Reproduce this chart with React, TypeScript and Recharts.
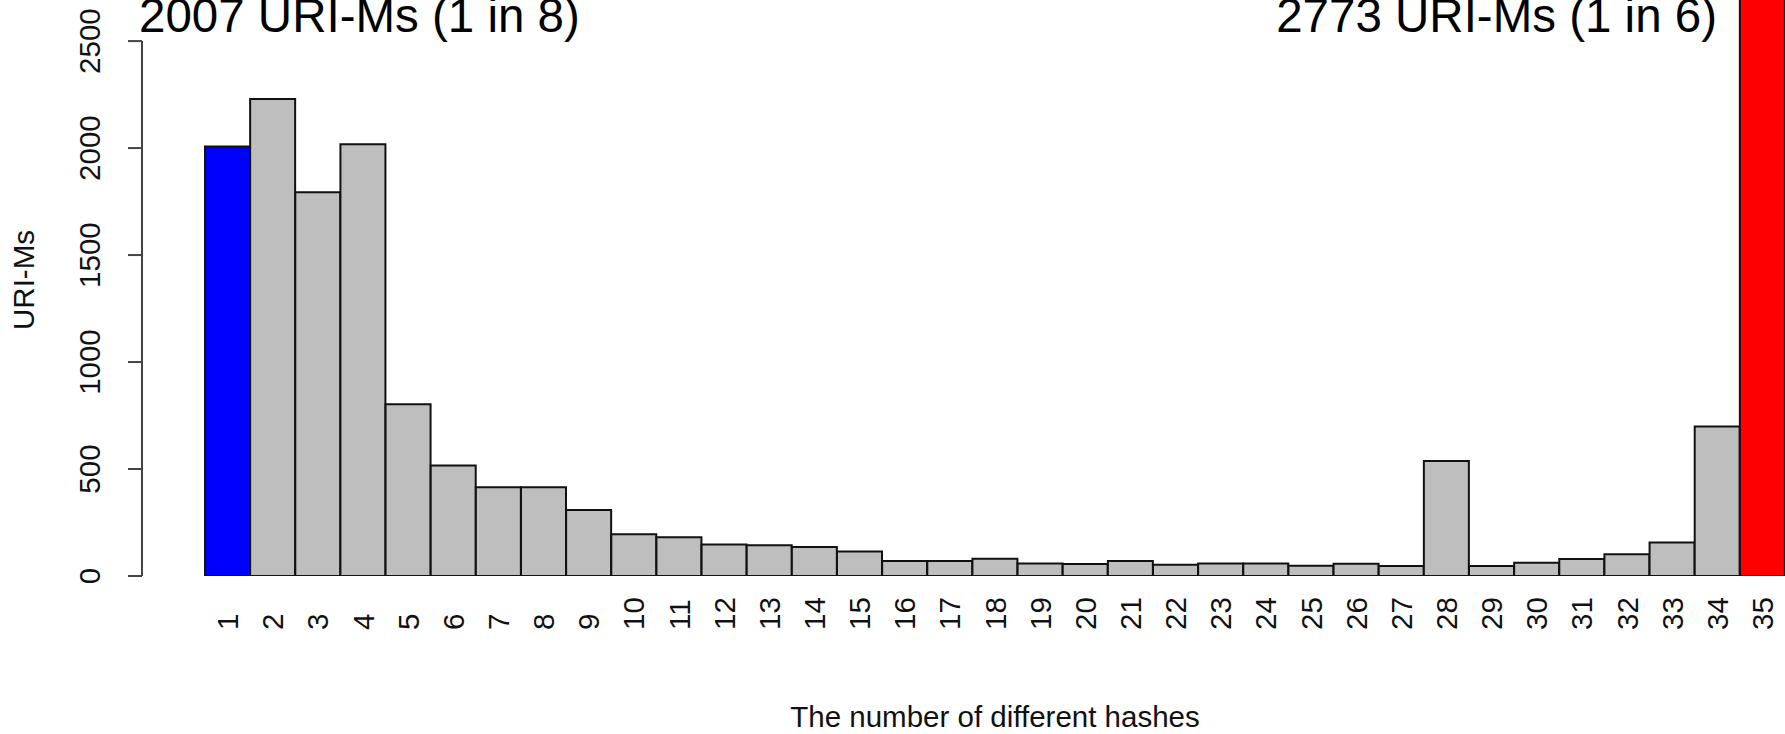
import React from 'react';
import { BarChart, Bar, XAxis, YAxis, Cell, Label } from 'recharts';

// number of different hashes seen for one URI-M
const hashCounts = [
  '1', '2', '3', '4', '5', '6', '7', '8', '9', '10', '11', '12', '13', '14', '15', '16', '17', '18',
  '19', '20', '21', '22', '23', '24', '25', '26', '27', '28', '29', '30', '31', '32', '33', '34', '35',
];

// how many URI-Ms had that many hashes
const uriMs = [
  2007, 2229, 1794, 2018, 803, 516, 415, 415, 309, 195, 181, 147, 144, 136, 115, 70, 70, 81,
  59, 56, 70, 53, 59, 59, 48, 57, 47, 537, 47, 62, 79, 102, 157, 699, 2773,
];

const yTicks = [0, 500, 1000, 1500, 2000, 2500];

const data = hashCounts.map((k, i) => ({ k, count: uriMs[i] }));
const total = uriMs.reduce((a, b) => a + b, 0);
const first = uriMs[0];
const last = uriMs[uriMs.length - 1];

const W = 1785;
const H = 734;
const PLOT_LEFT = 205;
const PLOT_BOTTOM = 576;
const Y_MAX = 2692;
const PX = PLOT_BOTTOM / Y_MAX;
const AXIS_X = 142;
const FONT = '"Liberation Sans", Arial, Helvetica, sans-serif';
const FS = 29.5;

const YTick = (props: any) => {
  const { y, payload } = props;
  const v = payload.value;
  const step = yTicks[1] - yTicks[0];
  return (
    <g>
      {v > 0 && (
        <line x1={AXIS_X} x2={AXIS_X} y1={y} y2={y + step * PX} stroke="#444" strokeWidth={2} />
      )}
      <line x1={AXIS_X - 14} x2={AXIS_X} y1={y} y2={y} stroke="#444" strokeWidth={2} />
      <text
        x={100}
        y={y}
        transform={`rotate(-90, 100, ${y})`}
        textAnchor="middle"
        fontFamily={FONT}
        fontSize={FS}
        fill="#111"
      >
        {v}
      </text>
    </g>
  );
};

const XTick = (props: any) => {
  const { x, payload } = props;
  const y = 630;
  return (
    <text
      x={x}
      y={y}
      dy="0.36em"
      transform={`rotate(-90, ${x}, ${y})`}
      textAnchor="start"
      fontFamily={FONT}
      fontSize={FS}
      fill="#111"
    >
      {payload.value}
    </text>
  );
};

const barColor = (i: number) => {
  if (i === 0) return '#0000ff';
  if (i === uriMs.length - 1) return '#ff0000';
  return '#bebebe';
};

export default function App() {
  return (
    <div style={{ position: 'absolute', left: 0, top: 0, width: W, height: H, background: '#fff' }}>
      <BarChart
        width={W}
        height={H}
        data={data}
        margin={{ top: 0, right: 0, bottom: 0, left: 0 }}
        barCategoryGap={0}
      >
        <XAxis
          dataKey="k"
          interval={0}
          height={H - PLOT_BOTTOM}
          axisLine={false}
          tickLine={false}
          tick={<XTick />}
        >
          <Label
            content={(p: any) => {
              const vb = p.viewBox;
              return (
                <text
                  x={vb.x + vb.width / 2}
                  y={vb.y + vb.height - 7}
                  textAnchor="middle"
                  fontFamily={FONT}
                  fontSize={FS}
                  fill="#111"
                >
                  The number of different hashes
                </text>
              );
            }}
          />
        </XAxis>
        <YAxis
          width={PLOT_LEFT}
          domain={[0, Y_MAX]}
          allowDataOverflow
          ticks={yTicks}
          axisLine={false}
          tickLine={false}
          tick={<YTick />}
        >
          <Label
            content={() => (
              <text
                x={34}
                y={280}
                transform="rotate(-90, 34, 280)"
                textAnchor="middle"
                fontFamily={FONT}
                fontSize={FS}
                fill="#111"
              >
                URI-Ms
              </text>
            )}
          />
        </YAxis>
        <Bar dataKey="count" stroke="#111" strokeWidth={2} isAnimationActive={false}>
          {data.map((d, i) => (
            <Cell key={d.k} fill={barColor(i)} />
          ))}
        </Bar>
      </BarChart>
      <svg width={W} height={H} style={{ position: 'absolute', left: 0, top: 0, pointerEvents: 'none' }}>
        <text x={139} y={32} fontFamily={FONT} fontSize={47.5} fill="#000">
          {`${first} URI-Ms (1 in ${Math.round(total / first)})`}
        </text>
        <text x={1717} y={32} textAnchor="end" fontFamily={FONT} fontSize={47.5} fill="#000">
          {`${last} URI-Ms (1 in ${Math.round(total / last)})`}
        </text>
      </svg>
    </div>
  );
}
